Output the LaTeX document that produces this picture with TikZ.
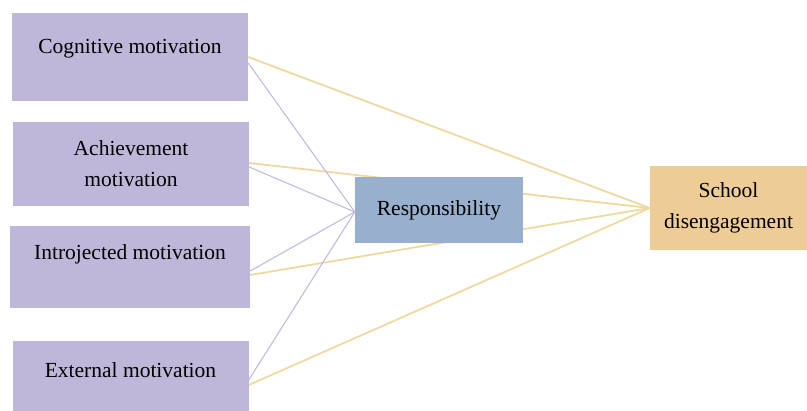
\documentclass[tikz,border=0pt]{standalone}
\usepackage{fontspec}
\setmainfont{Liberation Serif}
\usetikzlibrary{backgrounds}

\definecolor{motfill}{HTML}{BFB7DA}
\definecolor{respfill}{HTML}{98AFCE}
\definecolor{schoolfill}{HTML}{EDCD95}
\definecolor{yline}{HTML}{EFD9A0}
\definecolor{pline}{HTML}{C3BBE0}

\begin{document}
\begin{tikzpicture}[x=1pt,y=-1pt]
	\tikzset{txt/.style={font=\fontsize{21.5}{31}\selectfont},
		box/.style={fill=#1,inner sep=0pt,align=center,txt},
		mot/.style={box=motfill,minimum width=236pt},
		toschool/.style={draw=yline,line width=1.8pt},
		toresp/.style={draw=pline,line width=1.1pt}}

	\useasboundingbox (0,0) rectangle (807,411);

	\node[mot,minimum height=88pt,label={[yshift=8pt,txt]center:Cognitive motivation}] (cog) at (130,57) {};
	\node[mot,minimum height=84pt] (ach) at (131,164) {Achievement\\motivation};
	\node[mot,minimum width=240pt,minimum height=82pt,label={[yshift=13pt,txt]center:Introjected motivation}] (intro) at (130,267) {};
	\node[mot,minimum height=70pt,label={[yshift=6pt,txt]center:External motivation}] (ext) at (130.5,376) {};

	\node[box=respfill,minimum width=168pt,minimum height=66pt] (resp) at (439,210) {Responsibility};
	\node[box=schoolfill,minimum width=157pt,minimum height=84pt] (school) at (728.5,208) {School\\disengagement};

	\begin{scope}[on background layer]
	    \draw[toschool] (cog.east) -- (school.west);
	    \draw[toschool] ([yshift=1pt]ach.east) -- (school.west);
	    \draw[toschool] ([yshift=-8pt]intro.east) -- (school.west);
	    \draw[toschool] ([yshift=-9pt]ext.east) -- (school.west);

	    \draw[toresp] ([yshift=-6pt]cog.east) -- ([yshift=-2pt]resp.west);
	    \draw[toresp] ([yshift=-3pt]ach.east) -- ([yshift=-2pt]resp.west);
	    \draw[toresp] ([yshift=-4pt]intro.east) -- ([yshift=-2pt]resp.west);
	    \draw[toresp] ([yshift=-4pt]ext.east) -- ([yshift=-2pt]resp.west);
	\end{scope}
\end{tikzpicture}
\end{document}
